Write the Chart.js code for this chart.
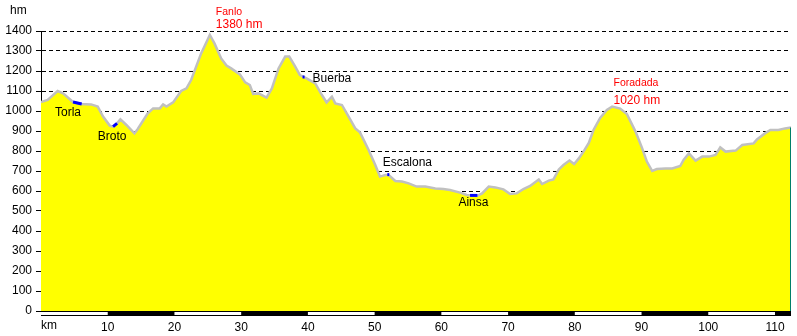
<!DOCTYPE html>
<html lang="es">
<head>
<meta charset="UTF-8">
<title>Perfil Torla - Foradada</title>
<style>
    body { margin: 0; background: #fff; }
    canvas { display: block; }
</style>
</head>
<body>
<canvas id="perfil" width="797" height="336"></canvas>
<script src="https://cdn.jsdelivr.net/npm/chart.js"></script>
<script>
// distancia (km) y altitud (m)
const km = [0, 1.0, 2.5, 3.3, 4.8, 6.0, 7.5, 8.5, 9.3, 10.3, 10.8, 11.4, 11.9, 12.8, 14.0, 14.5,
    16.0, 16.8, 17.8, 18.3, 18.8, 19.8, 21.0, 21.8, 22.5, 24.0, 25.3, 26.0, 27.0, 27.8, 28.5,
    29.8, 30.6, 31.3, 31.8, 32.6, 33.8, 34.6, 35.6, 36.6, 37.2, 38.1, 38.8, 39.8, 41.1, 42.1,
    42.8, 43.6, 44.1, 45.1, 46.1, 47.1, 47.8, 49.1, 50.1, 50.8, 51.6, 52.1, 53.1, 54.1, 55.1,
    56.3, 57.6, 59.1, 60.3, 61.3, 62.8, 63.8, 65.3, 66.1, 67.1, 68.1, 69.3, 70.3, 71.3, 72.3,
    73.3, 74.6, 75.1, 76.1, 76.8, 77.6, 78.3, 79.2, 79.9, 80.6, 81.3, 82.1, 82.8, 83.8, 84.8,
    85.6, 86.8, 87.8, 89.1, 90.1, 90.8, 91.6, 92.3, 93.6, 94.6, 95.8, 96.3, 97.1, 98.1, 99.1,
    100.1, 101.1, 101.8, 102.6, 104.1, 105.1, 106.8, 107.3, 108.5, 109.3, 110.5, 111.5, 112.4];
const alt = [1045, 1055, 1100, 1088, 1045, 1035, 1033, 1022, 972, 927, 922, 938, 958, 930, 888, 910,
    988, 1013, 1013, 1033, 1022, 1043, 1100, 1113, 1155, 1288, 1380, 1338, 1263, 1227, 1213,
    1183, 1143, 1130, 1085, 1088, 1067, 1113, 1213, 1272, 1272, 1222, 1180, 1163, 1138, 1080,
    1043, 1072, 1038, 1030, 972, 913, 893, 805, 730, 672, 680, 680, 650, 647, 638,
    622, 622, 613, 610, 605, 592, 580, 575, 588, 622, 618, 608, 585, 588, 610,
    625, 658, 635, 652, 658, 708, 730, 752, 735, 763, 797, 840, 905, 965, 1005,
    1022, 1012, 985, 897, 813, 747, 700, 710, 713, 713, 725, 755, 788, 752, 772,
    772, 780, 818, 797, 802, 830, 838, 858, 888, 905, 905, 913, 917];

const yTicks = [0, 100, 200, 300, 400, 500, 600, 700, 800, 900, 1000, 1100, 1200, 1300, 1400];
const xTicks = [0, 10, 20, 30, 40, 50, 60, 70, 80, 90, 100, 110];
const kmMax = 112.4;

// pueblos: marca azul sobre el perfil y posicion del texto
const places = ['Torla', 'Broto', 'Buerba', 'Escalona', 'Ainsa'];
const placeTextKm = [4.05, 10.65, 43.6, 54.9, 64.8];
const placeTextAlt = [990, 870, 1160, 740, 540];
const markFromKm = [4.8, 10.8, 39.2, 51.9, 64.3];
const markToKm = [6.1, 11.4, 39.5, 52.2, 65.4];
const markFromAlt = [1045, 922, 1170, 682, 578];
const markToAlt = [1035, 938, 1170, 682, 578];

// puertos
const peaks = ['Fanlo', 'Foradada'];
const peakAlt = [1380, 1020];
const peakTextKm = [26.2, 85.8];
const peakNameAlt = [1495, 1140];
const peakValAlt = [1430, 1050];

const FONT = '"Liberation Sans", Arial, sans-serif';

const datasets = [{
    data: km.map((k, i) => ({ x: k, y: alt[i] })),
    borderColor: '#c0c0c0',
    borderWidth: 2.5,
    backgroundColor: '#ffff00',
    fill: 'origin',
    pointRadius: 0,
    tension: 0,
    order: 3
}, {
    data: [{ x: kmMax, y: 0 }, { x: kmMax, y: alt[alt.length - 1] }],
    borderColor: '#00806a',
    borderWidth: 2,
    pointRadius: 0,
    fill: false,
    order: 2
}];
places.forEach((p, i) => {
    datasets.push({
        data: [{ x: markFromKm[i], y: markFromAlt[i] }, { x: markToKm[i], y: markToAlt[i] }],
        borderColor: '#0000ff',
        borderWidth: 3,
        borderCapStyle: 'butt',
        pointRadius: 0,
        fill: false,
        order: 1
    });
});

const decor = {
    id: 'decor',
    afterDraw(chart) {
        const { ctx } = chart;
        const x = chart.scales.x, y = chart.scales.y;
        const base = y.getPixelForValue(0);
        ctx.save();
        // barra de km
        ctx.fillStyle = '#000';
        ctx.fillRect(x.left, base, x.right - x.left, 5);
        ctx.fillStyle = '#fff';
        for (let k = 0; k < kmMax; k += 20) {
            const a = x.getPixelForValue(k);
            const b = x.getPixelForValue(Math.min(k + 10, kmMax));
            ctx.fillRect(a, base + 1, b - a, 3);
        }
        // textos de ejes
        ctx.fillStyle = '#000';
        ctx.font = '12px ' + FONT;
        ctx.textBaseline = 'middle';
        ctx.textAlign = 'left';
        ctx.fillText('hm', 10, 11);
        ctx.fillText('km', x.left, 326);
        // pueblos
        ctx.textAlign = 'center';
        places.forEach((p, i) => {
            ctx.fillText(p, x.getPixelForValue(placeTextKm[i]), y.getPixelForValue(placeTextAlt[i]));
        });
        // puertos
        ctx.fillStyle = '#ff0000';
        ctx.textAlign = 'left';
        peaks.forEach((p, i) => {
            const px = x.getPixelForValue(peakTextKm[i]);
            ctx.font = '10.5px ' + FONT;
            ctx.fillText(p, px, y.getPixelForValue(peakNameAlt[i]));
            ctx.font = '12px ' + FONT;
            ctx.fillText(peakAlt[i] + ' hm', px, y.getPixelForValue(peakValAlt[i]));
        });
        ctx.restore();
    }
};

new Chart(document.getElementById('perfil'), {
    type: 'line',
    data: { datasets: datasets },
    options: {
        responsive: false,
        animation: false,
        layout: { padding: { top: 31, right: 6, left: 0, bottom: 0 } },
        plugins: { legend: { display: false }, tooltip: { enabled: false } },
        scales: {
            x: {
                type: 'linear',
                min: 0,
                max: kmMax,
                afterBuildTicks: s => { s.ticks = xTicks.map(v => ({ value: v })); },
                afterFit: s => { s.height = 25; },
                ticks: {
                    callback: v => v === 0 ? '' : String(v),
                    autoSkip: false,
                    maxRotation: 0,
                    padding: 9,
                    color: '#000',
                    font: { family: FONT, size: 12 }
                },
                grid: { display: false, drawTicks: false },
                border: { display: false }
            },
            y: {
                min: 0,
                max: 1400,
                z: 1,
                afterBuildTicks: s => { s.ticks = yTicks.map(v => ({ value: v })); },
                afterFit: s => { s.width = 41; },
                ticks: {
                    callback: v => String(v),
                    padding: 4,
                    color: '#000',
                    font: { family: FONT, size: 12 }
                },
                grid: { color: '#000', lineWidth: 1, tickLength: 5, tickColor: '#000' },
                border: { display: true, color: '#000', width: 1, dash: [4, 3] }
            }
        }
    },
    plugins: [decor]
});
</script>
</body>
</html>
